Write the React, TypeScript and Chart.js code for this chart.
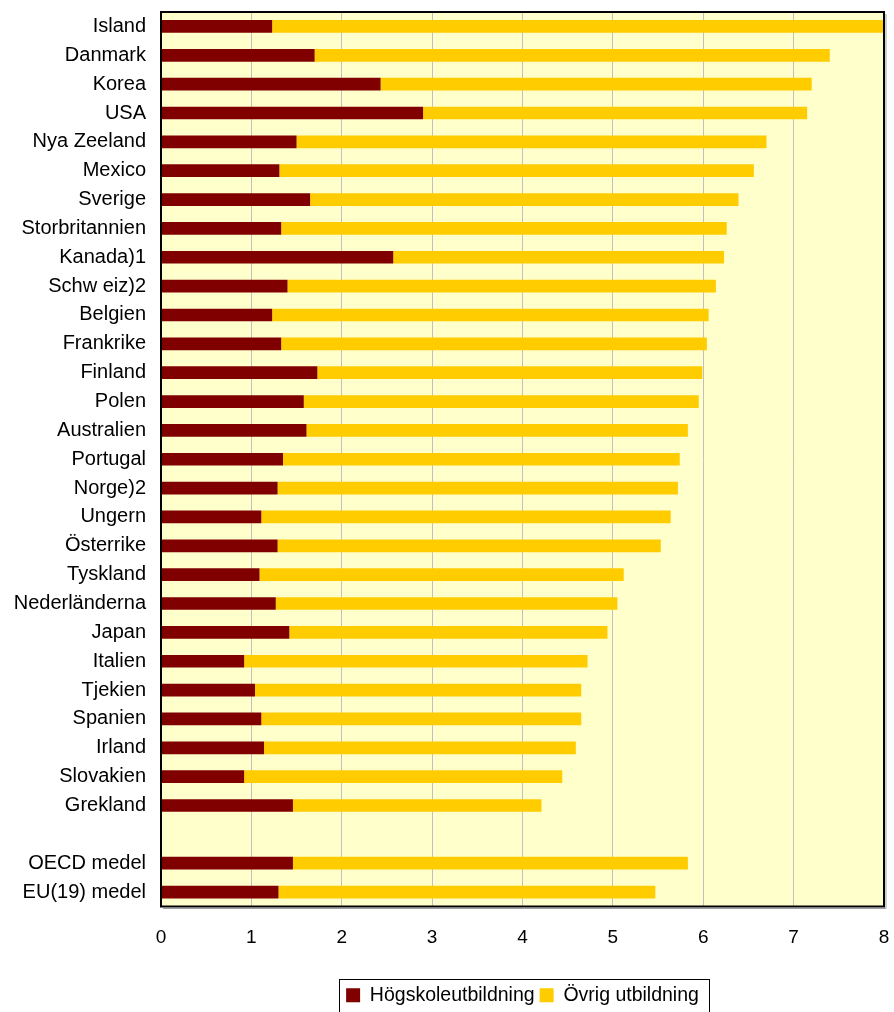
import React, { useEffect, useRef } from "react";
import { Chart, registerables } from "chart.js";

Chart.register(...registerables);

const categories = [
  "Island", "Danmark", "Korea", "USA", "Nya Zeeland", "Mexico", "Sverige",
  "Storbritannien", "Kanada)1", "Schw eiz)2", "Belgien", "Frankrike", "Finland",
  "Polen", "Australien", "Portugal", "Norge)2", "Ungern", "Österrike", "Tyskland",
  "Nederländerna", "Japan", "Italien", "Tjekien", "Spanien", "Irland", "Slovakien",
  "Grekland", "", "OECD medel", "EU(19) medel",
];

const hogskola = [
  1.23, 1.70, 2.43, 2.90, 1.50, 1.31, 1.65,
  1.33, 2.57, 1.40, 1.23, 1.33, 1.73,
  1.58, 1.61, 1.35, 1.29, 1.11, 1.29, 1.09,
  1.27, 1.42, 0.92, 1.04, 1.11, 1.14, 0.92,
  1.46, null, 1.46, 1.30,
];

const ovrig = [
  6.76, 5.70, 4.77, 4.25, 5.20, 5.25, 4.74,
  4.93, 3.66, 4.74, 4.83, 4.71, 4.26,
  4.37, 4.22, 4.39, 4.43, 4.53, 4.24, 4.03,
  3.78, 3.52, 3.80, 3.61, 3.54, 3.45, 3.52,
  2.75, null, 4.37, 4.17,
];

const xTicks = [0, 1, 2, 3, 4, 5, 6, 7, 8];

const seriesNames = ["Högskoleutbildning", "Övrig utbildning"];

const FONT = "'Liberation Sans', Arial, sans-serif";

const decorPlugin = {
  id: "decor",
  beforeDraw(chart: any) {
    const { ctx, chartArea } = chart;
    ctx.save();
    ctx.fillStyle = "#FFFFCC";
    ctx.fillRect(chartArea.left, chartArea.top, chartArea.right - chartArea.left, chartArea.bottom - chartArea.top);
    ctx.restore();
  },
  afterDraw(chart: any) {
    const { ctx, chartArea } = chart;
    ctx.save();
    ctx.strokeStyle = "#A0A0A0";
    ctx.lineWidth = 1;
    ctx.beginPath();
    ctx.moveTo(chartArea.right + 2, chartArea.top + 2);
    ctx.lineTo(chartArea.right + 2, chartArea.bottom + 2);
    ctx.lineTo(chartArea.left + 2, chartArea.bottom + 2);
    ctx.stroke();
    ctx.strokeStyle = "#000000";
    ctx.lineWidth = 2;
    ctx.strokeRect(chartArea.left, chartArea.top, chartArea.right - chartArea.left, chartArea.bottom - chartArea.top);
    const boxes = chart.legend && chart.legend.legendHitBoxes;
    if (boxes && boxes.length) {
      let l = Infinity, r = -Infinity, t = Infinity, b = -Infinity;
      boxes.forEach((h: any) => {
        l = Math.min(l, h.left);
        r = Math.max(r, h.left + h.width);
        t = Math.min(t, h.top);
        b = Math.max(b, h.top + h.height);
      });
      ctx.strokeStyle = "#000000";
      ctx.lineWidth = 1;
      ctx.strokeRect(Math.round(l - 7) + 0.5, Math.round(t - 7) + 0.5, Math.round(r - l + 17), Math.round(b - t + 14));
    }
    ctx.restore();
  },
};

function zeroPad(scale: any) {
  scale.paddingTop = 0;
  scale.paddingBottom = 0;
  scale.paddingLeft = 0;
  scale.paddingRight = 0;
}

export default function App() {
  const canvasRef = useRef<HTMLCanvasElement | null>(null);

  useEffect(() => {
    if (!canvasRef.current) return;
    const chart = new Chart(canvasRef.current, {
      type: "bar",
      data: {
        labels: categories,
        datasets: [
          {
            label: seriesNames[0],
            data: hogskola,
            backgroundColor: "#800000",
            borderWidth: 0,
            categoryPercentage: 0.44,
            barPercentage: 1,
          },
          {
            label: seriesNames[1],
            data: ovrig,
            backgroundColor: "#FFCC00",
            borderWidth: 0,
            categoryPercentage: 0.44,
            barPercentage: 1,
          },
        ],
      },
      plugins: [decorPlugin],
      options: {
        indexAxis: "y",
        animation: false,
        responsive: true,
        maintainAspectRatio: false,
        layout: { padding: { left: 0, right: 10, top: 12, bottom: -3 } },
        plugins: {
          tooltip: { enabled: false },
          legend: {
            position: "bottom",
            fullSize: false,
            labels: {
              boxWidth: 14,
              boxHeight: 14,
              padding: 5,
              color: "#000",
              font: { family: FONT, size: 19.5 },
            },
          },
        },
        scales: {
          x: {
            stacked: true,
            min: 0,
            max: 8,
            afterBuildTicks(scale: any) {
              scale.ticks = xTicks.map((v) => ({ value: v }));
            },
            afterFit(scale: any) {
              scale.height = 74;
              zeroPad(scale);
            },
            grid: { color: "#C0C0C0", lineWidth: 1, drawTicks: false },
            border: { display: false },
            ticks: {
              padding: 20,
              color: "#000",
              font: { family: FONT, size: 19 },
            },
          },
          y: {
            stacked: true,
            afterFit(scale: any) {
              scale.width = 161;
              zeroPad(scale);
            },
            grid: { display: false, drawTicks: false },
            border: { display: false },
            ticks: {
              padding: 15,
              autoSkip: false,
              color: "#000",
              font: { family: FONT, size: 20 },
            },
          },
        },
      },
    });
    return () => chart.destroy();
  }, []);

  return (
    <div style={{ position: "fixed", left: 0, top: 0, width: 894, height: 1012, background: "#fff" }}>
      <canvas ref={canvasRef} />
    </div>
  );
}
